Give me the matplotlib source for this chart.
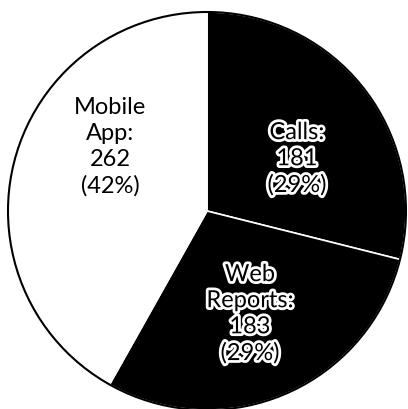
import matplotlib.pyplot as plt
import matplotlib.patheffects as pe
from matplotlib.patches import Circle

categories = ['Calls', 'Web\nReports', 'Mobile\nApp']
values = [181, 183, 262]
colors = ['black', 'black', 'white']
outlined = [True, True, False]
# label centres in axes units (pie radius = 1)
label_pos = [(0.452, 0.261), (0.216, -0.518), (-0.487, 0.327)]

total = sum(values)
labels = [f"{c}:\n{v}\n({v / total * 100:.0f}%)" for c, v in zip(categories, values)]

fig = plt.figure(figsize=(4.08, 4.10), dpi=100)
ax = fig.add_axes([0, 0, 1, 1])

wedges, _ = ax.pie(values, colors=colors, startangle=90, counterclock=False, radius=1.0,
                   wedgeprops=dict(edgecolor='white', linewidth=1.2))

for lbl, (x, y), out in zip(labels, label_pos, outlined):
    t = ax.text(x, y, lbl, fontsize=17, family='Lato', ha='center', va='center',
                linespacing=1.3, color='black', multialignment='center', zorder=6)
    if out:
        t.set_path_effects([pe.withStroke(linewidth=4, foreground='white')])

ax.add_patch(Circle((0, 0), 1.0, fill=False, edgecolor='black', linewidth=1.5, zorder=5))

cx, cy, r = 207, 212, 199
ax.set_xlim(-cx / r, (408 - cx) / r)
ax.set_ylim(-(410 - cy) / r, cy / r)
ax.set_aspect('auto')
ax.axis('off')

fig.savefig('out.png', dpi=100, facecolor='white')
